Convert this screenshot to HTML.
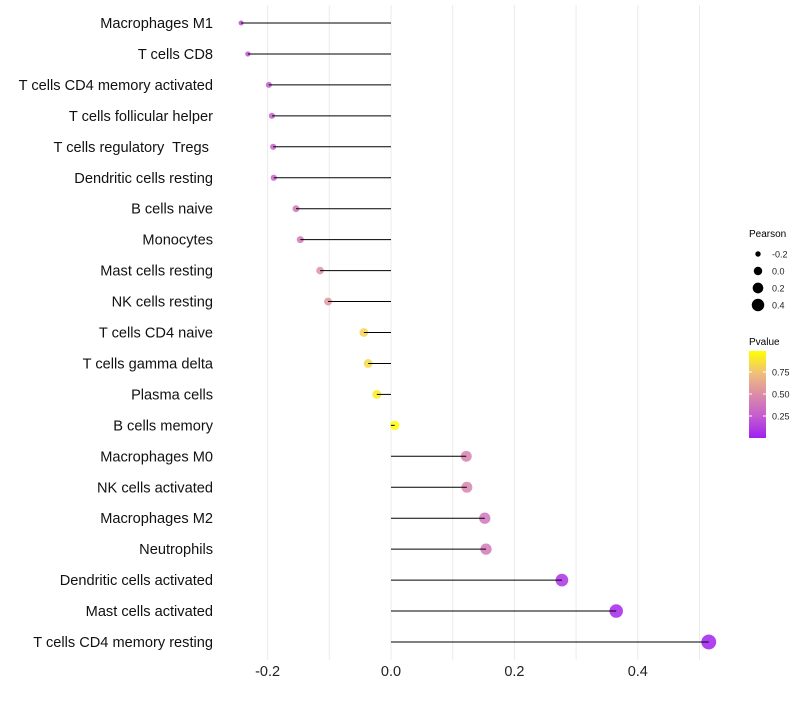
<!DOCTYPE html>
<html><head><meta charset="utf-8"><style>
body{margin:0;background:#fff;font-family:"Liberation Sans",sans-serif}
text{white-space:pre}
</style></head><body>
<svg id="chart" width="800" height="700" xmlns="http://www.w3.org/2000/svg">
<defs><linearGradient id="pg" x1="0" y1="1" x2="0" y2="0">
<stop offset="0" stop-color="#A020F0"/><stop offset="0.25" stop-color="#C45CD0"/><stop offset="0.5" stop-color="#DC8CA8"/><stop offset="0.75" stop-color="#F0C078"/><stop offset="1" stop-color="#FFFF00"/></linearGradient></defs>
<g id="grid"></g><g id="marks"></g><g id="labels"></g>
</svg>
<script>
const categories=["Macrophages M1","T cells CD8","T cells CD4 memory activated","T cells follicular helper","T cells regulatory  Tregs ","Dendritic cells resting","B cells naive","Monocytes","Mast cells resting","NK cells resting","T cells CD4 naive","T cells gamma delta","Plasma cells","B cells memory","Macrophages M0","NK cells activated","Macrophages M2","Neutrophils","Dendritic cells activated","Mast cells activated","T cells CD4 memory resting"];
const pearson=[-0.243,-0.232,-0.198,-0.193,-0.191,-0.19,-0.154,-0.147,-0.115,-0.102,-0.044,-0.037,-0.023,0.006,0.122,0.123,0.152,0.154,0.277,0.365,0.515];
const pvalues=[0.18,0.22,0.25,0.27,0.28,0.3,0.38,0.4,0.52,0.55,0.82,0.85,0.93,0.99,0.45,0.46,0.38,0.4,0.08,0.03,0.01];
const xTicks=[-0.2,0,0.2,0.4];
const xTickLabels=["-0.2","0.0","0.2","0.4"];
const sizeBreaks=[-0.2,0,0.2,0.4];
const pBreaks=[0.25,0.5,0.75];
const NS="http://www.w3.org/2000/svg";
const X=v=>391+v*617;
const Y=i=>23+i*30.95;
const R=v=>Math.sqrt(Math.max(4,22+65*v));
function mk(t,a,p){const e=document.createElementNS(NS,t);for(const k in a)e.setAttribute(k,a[k]);document.getElementById(p).appendChild(e);return e;}
const stops=[[0,[160,32,240]],[0.25,[196,92,208]],[0.5,[220,140,168]],[0.75,[240,192,120]],[1,[255,255,0]]];
function col(p){for(let i=1;i<stops.length;i++){if(p<=stops[i][0]){const a=stops[i-1],b=stops[i],t=(p-a[0])/(b[0]-a[0]);const c=a[1].map((v,j)=>Math.round(v+(b[1][j]-v)*t));return`rgb(${c})`;}}return"rgb(255,255,0)";}
for(let v=-0.2;v<=0.51;v+=0.1){const g=mk("line",{x1:X(v),x2:X(v),y1:5,y2:660,stroke:"#ebebeb","stroke-width":1},"grid");

}
xTicks.forEach((v,i)=>{const t=mk("text",{x:X(v),y:676,"text-anchor":"middle","font-size":14.5,fill:"#222"},"labels");t.textContent=xTickLabels[i];

});
categories.forEach((c,i)=>{
const t=mk("text",{x:213,y:Y(i)+5,"text-anchor":"end","font-size":14.6,fill:"#111"},"labels");t.textContent=c;


const d=mk("circle",{cx:X(pearson[i]),cy:Y(i),r:R(pearson[i]),fill:col(pvalues[i]),"fill-opacity":0.85},"marks");


const l=mk("line",{x1:X(0),x2:X(pearson[i]),y1:Y(i),y2:Y(i),stroke:"#000","stroke-width":1},"marks");


});
let t=mk("text",{x:749,y:237,"font-size":10,fill:"#000"},"labels");t.textContent="Pearson";


sizeBreaks.forEach((v,i)=>{const y=254+i*17;
const c=mk("circle",{cx:758,cy:y,r:R(v)*0.9,fill:"#000"},"labels");


const s=mk("text",{x:772,y:y+3.5,"font-size":9,fill:"#222"},"labels");s.textContent=v.toFixed(1);

});
t=mk("text",{x:749,y:345,"font-size":10,fill:"#000"},"labels");t.textContent="Pvalue";


const bar=mk("rect",{x:749,y:351,width:17,height:87,fill:"url(#pg)"},"labels");


pBreaks.forEach(p=>{const y=438-p*88;
const s=mk("text",{x:772,y:y+3.5,"font-size":9,fill:"#222"},"labels");s.textContent=p.toFixed(2);


mk("line",{x1:749,x2:752,y1:y,y2:y,stroke:"#fff"},"labels");mk("line",{x1:763,x2:766,y1:y,y2:y,stroke:"#fff"},"labels");});
</script>
</body></html>
